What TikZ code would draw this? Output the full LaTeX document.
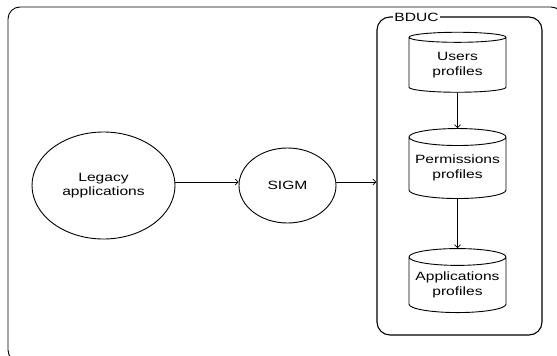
\documentclass[tikz,border=0pt]{standalone}
\usepackage{fontspec}
\setmainfont{Liberation Sans}[FakeStretch=1.3]
\usetikzlibrary{shapes.geometric,arrows.meta}
\tikzset{
  conn/.style={draw, line width=0.7pt, -{Straight Barb[length=3pt,width=6pt]}},
  ellnode/.style={ellipse, draw, line width=0.9pt, inner sep=0pt, align=center, font=\fontsize{12}{14.5}\selectfont},
  db/.style={cylinder, shape border rotate=90, draw, line width=0.9pt, aspect=0.2, minimum width=97pt, inner sep=0pt, align=center, font=\fontsize{12}{14.5}\selectfont},
}
\begin{document}
\begin{tikzpicture}[x=1pt,y=-1pt]
\useasboundingbox (0,0) rectangle (557,356);
\begin{scope}
\clip (0,0) rectangle (557,356);
\draw[line width=0.9pt, rounded corners=12pt] (8,7) rectangle (563,362);
\end{scope}
\node[draw, line width=1.1pt, rounded corners=13pt, minimum width=165pt, minimum height=318pt, inner sep=0pt] (bduc) at (459.5,176) {};
\node[fill=white, inner sep=1pt, font=\fontsize{12}{14}\selectfont] (bduclabel) at (416.5,17) {BDUC};
\node[ellnode, minimum width=143pt, minimum height=107pt] (legacy) at (103.5,185.5) {Legacy\\applications};
\node[ellnode, minimum width=97pt, minimum height=75pt] (sigm) at (287.5,185.5) {SIGM};
\node[db, minimum height=60pt] (users) at (457.5,65) {Users\\profiles};
\node[db, minimum height=70pt] (perm) at (457.5,168) {Permissions\\profiles};
\node[db, minimum height=64pt] (apps) at (457.5,285) {Applications\\profiles};
\draw[conn] (legacy.east |- 0,182) -- (sigm.west |- 0,182);
\draw[conn] (sigm.east |- 0,182) -- (bduc.west |- 0,182);
\draw[conn] (users.south) -- (perm.north);
\draw[conn] (perm.south) -- (apps.north);
\end{tikzpicture}
\end{document}
